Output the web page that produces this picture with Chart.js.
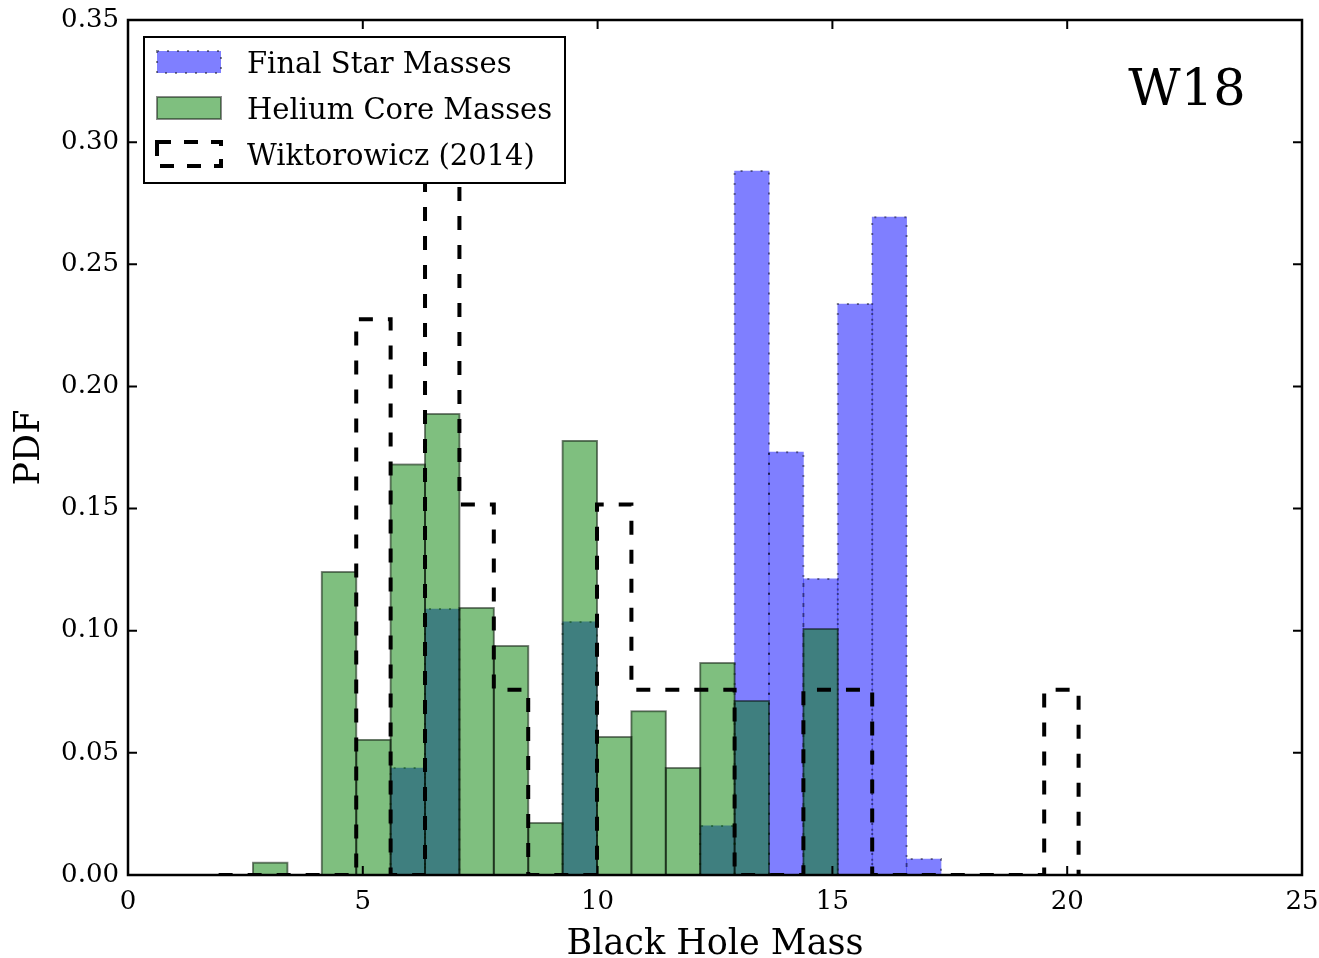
<!DOCTYPE html>
<html>
<head>
<meta charset="utf-8">
<script src="https://cdn.jsdelivr.net/npm/chart.js@4.4.1/dist/chart.umd.min.js"></script>
<style>
  html, body { margin: 0; padding: 0; background: #ffffff; }
  canvas { display: block; }
</style>
</head>
<body>
<canvas id="chart" width="1319" height="958"></canvas>
<script>
// ---- Data ----
const binEdges = [1.930, 2.6625, 3.395, 4.1275, 4.860, 5.5925, 6.325, 7.0575, 7.790, 8.5225,
                  9.255, 9.9875, 10.720, 11.4525, 12.185, 12.9175, 13.650, 14.3825, 15.115, 15.8475,
                  16.580, 17.3125, 18.045, 18.7775, 19.510, 20.2425];
const finalStarMasses  = [0, 0, 0, 0, 0, 0.0438, 0.1089, 0, 0, 0, 0.1036, 0, 0, 0, 0.0201,
                          0.2882, 0.1731, 0.1212, 0.2337, 0.2693, 0.0065, 0, 0, 0, 0];
const heliumCoreMasses = [0, 0.005, 0, 0.124, 0.0553, 0.168, 0.1887, 0.1093, 0.0937, 0.0213, 0.1777,
                          0.0565, 0.067, 0.0438, 0.0868, 0.0712, 0, 0.1007, 0, 0, 0, 0, 0, 0, 0];
const wiktorowicz2014  = [0, 0, 0, 0, 0.2275, 0, 0.3033, 0.1517, 0.0758, 0, 0, 0.1517, 0.0758,
                          0.0758, 0.0758, 0, 0, 0.0758, 0.0758, 0, 0, 0, 0, 0, 0.0758];
const seriesLabels = ['Final Star Masses', 'Helium Core Masses', 'Wiktorowicz (2014)'];
const xTickValues = [0, 5, 10, 15, 20, 25];
const xTickLabels = ['0', '5', '10', '15', '20', '25'];
const yTickValues = [0, 0.05, 0.10, 0.15, 0.20, 0.25, 0.30, 0.35];
const yTickLabels = ['0.00', '0.05', '0.10', '0.15', '0.20', '0.25', '0.30', '0.35'];
const xTitle = 'Black Hole Mass';
const yTitle = 'PDF';
const panelLabel = 'W18';

// ---- Styles ----
const FONT = '"DejaVu Serif", "Liberation Serif", serif';
const BLUE_FILL = 'rgba(0,0,255,0.5)';
const GREEN_FILL = 'rgba(0,128,0,0.5)';
const EDGE = 'rgba(0,0,0,0.45)';

// ---- Build histogram data from bins ----
const centers = binEdges.slice(0, -1).map((e, i) => (e + binEdges[i + 1]) / 2);
const toBars = vals => centers.map((c, i) => ({ x: c, y: vals[i] }));
const stepData = binEdges.map((e, i) => ({ x: e, y: i < wiktorowicz2014.length ? wiktorowicz2014[i] : 0 }));

const histDecor = {
  id: 'histDecor',
  afterDatasetDraw(chart, args) {
    const ds = chart.data.datasets[args.index];
    if (!ds.outline) return;
    const ctx = chart.ctx, a = chart.chartArea;
    ctx.save();
    ctx.beginPath();
    ctx.rect(a.left, a.top, a.right - a.left, a.bottom - a.top);
    ctx.clip();
    ctx.strokeStyle = ds.outline.color;
    ctx.lineWidth = ds.outline.width;
    ctx.setLineDash(ds.outline.dash);
    args.meta.data.forEach((bar, i) => {
      if (!ds.data[i].y) return;
      const p = bar.getProps(['x', 'y', 'base', 'width'], true);
      const l = p.x - p.width / 2, r = p.x + p.width / 2;
      ctx.beginPath();
      ctx.moveTo(l, p.base);
      ctx.lineTo(l, p.y);
      ctx.lineTo(r, p.y);
      ctx.lineTo(r, p.base);
      ctx.stroke();
    });
    ctx.restore();
  },
  afterDraw(chart) {
    const ctx = chart.ctx, a = chart.chartArea;
    const xs = chart.scales.x, ys = chart.scales.y;
    ctx.save();
    // frame
    ctx.strokeStyle = '#000';
    ctx.lineWidth = 2.5;
    ctx.setLineDash([]);
    ctx.strokeRect(a.left, a.top, a.right - a.left, a.bottom - a.top);
    // inward ticks on all sides
    const tl = 9;
    ctx.lineWidth = 2;
    ctx.beginPath();
    xTickValues.forEach(v => {
      const px = xs.getPixelForValue(v);
      ctx.moveTo(px, a.bottom); ctx.lineTo(px, a.bottom - tl);
      ctx.moveTo(px, a.top); ctx.lineTo(px, a.top + tl);
    });
    yTickValues.forEach(v => {
      const py = ys.getPixelForValue(v);
      ctx.moveTo(a.left, py); ctx.lineTo(a.left + tl, py);
      ctx.moveTo(a.right, py); ctx.lineTo(a.right - tl, py);
    });
    ctx.stroke();

    // legend
    const lx = a.left + 16, ly = a.top + 17, lw = 421, lh = 146;
    ctx.fillStyle = '#fff';
    ctx.fillRect(lx, ly, lw, lh);
    ctx.strokeStyle = '#000';
    ctx.lineWidth = 2;
    ctx.strokeRect(lx, ly, lw, lh);
    const rowC = [ly + 25, ly + 71, ly + 117];
    const px0 = lx + 13, pw = 64, ph = 22;
    // row 1: blue patch, dotted edge
    ctx.fillStyle = BLUE_FILL;
    ctx.fillRect(px0, rowC[0] - ph / 2, pw, ph);
    ctx.strokeStyle = EDGE; ctx.lineWidth = 2; ctx.setLineDash([2, 8]);
    ctx.strokeRect(px0, rowC[0] - ph / 2, pw, ph);
    // row 2: green patch, solid edge
    ctx.setLineDash([]);
    ctx.fillStyle = GREEN_FILL;
    ctx.fillRect(px0, rowC[1] - ph / 2, pw, ph);
    ctx.strokeStyle = EDGE; ctx.lineWidth = 2;
    ctx.strokeRect(px0, rowC[1] - ph / 2, pw, ph);
    // row 3: dashed outline
    ctx.strokeStyle = '#000'; ctx.lineWidth = 4; ctx.setLineDash([14, 13]);
    ctx.strokeRect(px0, rowC[2] - 12, pw, 24);
    ctx.setLineDash([]);
    ctx.fillStyle = '#000';
    ctx.font = '29px ' + FONT;
    ctx.textAlign = 'left';
    ctx.textBaseline = 'alphabetic';
    seriesLabels.forEach((t, i) => ctx.fillText(t, lx + 103, rowC[i] + 11));

    // panel label
    ctx.font = '51px ' + FONT;
    ctx.textAlign = 'center';
    ctx.fillText(panelLabel, a.right - 115, a.top + 85);
    ctx.restore();
  }
};

new Chart(document.getElementById('chart'), {
  type: 'bar',
  data: {
    datasets: [
      {
        type: 'bar', label: seriesLabels[0], data: toBars(finalStarMasses),
        backgroundColor: BLUE_FILL, borderWidth: 0, grouped: false,
        barPercentage: 1, categoryPercentage: 1, order: 3,
        outline: { color: EDGE, width: 2, dash: [2, 8] }
      },
      {
        type: 'bar', label: seriesLabels[1], data: toBars(heliumCoreMasses),
        backgroundColor: GREEN_FILL, borderWidth: 0, grouped: false,
        barPercentage: 1, categoryPercentage: 1, order: 2,
        outline: { color: EDGE, width: 2, dash: [] }
      },
      {
        type: 'line', label: seriesLabels[2], data: stepData,
        stepped: 'before', borderColor: '#000', borderWidth: 4, borderDash: [14, 15],
        borderCapStyle: 'butt', pointRadius: 0, fill: false, tension: 0, order: 1
      }
    ]
  },
  options: {
    responsive: false,
    devicePixelRatio: 1,
    animation: false,
    layout: { padding: { left: 0, right: 17, top: 20, bottom: 0 } },
    plugins: { legend: { display: false }, tooltip: { enabled: false } },
    scales: {
      x: {
        type: 'linear', min: 0, max: 25, offset: false,
        grid: { display: false, drawTicks: false },
        border: { display: false },
        afterBuildTicks: s => { s.ticks = xTickValues.map(v => ({ value: v })); },
        afterFit: s => { s.height = 83; s.paddingLeft = 0; s.paddingRight = 0; },
        ticks: {
          autoSkip: false, maxRotation: 0, padding: 12, color: '#000',
          font: { family: FONT, size: 26 },
          callback: (v, i) => xTickLabels[i]
        },
        title: {
          display: true, text: xTitle, color: '#000',
          font: { family: FONT, size: 35, lineHeight: 0.76 }, padding: 0
        }
      },
      y: {
        type: 'linear', min: 0, max: 0.35,
        grid: { display: false, drawTicks: false },
        border: { display: false },
        afterBuildTicks: s => { s.ticks = yTickValues.map(v => ({ value: v })); },
        afterFit: s => { s.width = 128; s.paddingTop = 0; s.paddingBottom = 0; },
        ticks: {
          autoSkip: false, padding: 9, color: '#000',
          font: { family: FONT, size: 26 },
          callback: (v, i) => yTickLabels[i]
        },
        title: {
          display: true, text: yTitle, color: '#000',
          font: { family: FONT, size: 35, lineHeight: 1 }, padding: { top: 12, bottom: 0 }
        }
      }
    }
  },
  plugins: [histDecor]
});
</script>
</body>
</html>
